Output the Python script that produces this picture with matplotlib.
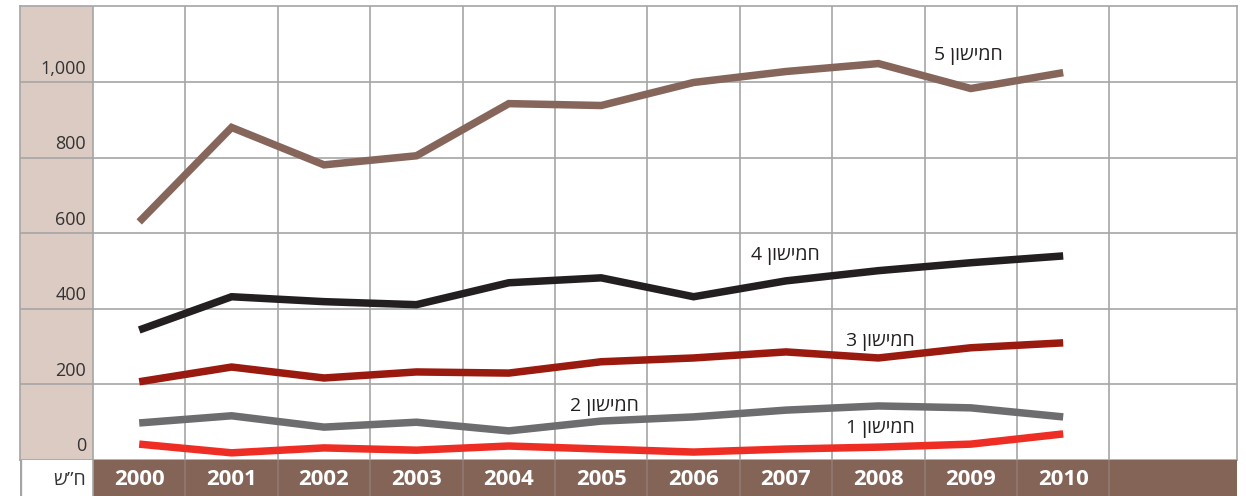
import matplotlib
matplotlib.use("Agg")
import matplotlib.pyplot as plt

years = [2000, 2001, 2002, 2003, 2004, 2005, 2006, 2007, 2008, 2009, 2010]
q5 = [630, 880, 781, 805, 943, 938, 999, 1028, 1049, 983, 1025]
q4 = [344, 432, 419, 411, 469, 482, 432, 474, 501, 522, 540]
q3 = [207, 246, 217, 233, 230, 260, 270, 286, 270, 297, 310]
q2 = [98, 117, 87, 100, 77, 103, 114, 132, 143, 138, 114]
q1 = [42, 19, 32, 26, 37, 29, 21, 29, 34, 42, 69]
series = [q1, q2, q3, q4, q5]
colors = ["#ee2e24", "#6d6d70", "#9b1a10", "#231f20", "#86655a"]
labels = ["חמישון 1", "חמישון 2", "חמישון 3", "חמישון 4", "חמישון 5"]
label_pos = [(8.02, 82), (5.04, 140), (8.02, 313), (6.99, 540), (8.97, 1070)]
yticks = [0, 200, 400, 600, 800, 1000]
ytick_labels = ["0", "200", "400", "600", "800", "1,000"]
unit_label = "ש”ח"

W, H = 1246, 496
fig = plt.figure(figsize=(W / 100, H / 100), dpi=100)

cell = 92.4
x0 = 93.0
def px2x(p):
    return (p - x0) / cell - 0.5

left_px, right_px = 20, 1237
top_px, mid_px, bot_px = 6, 460, 496
xl = (px2x(left_px), px2x(right_px))
ymax = 1000 + (82 - top_px) / 75.5 * 200

grid_c = "#a5a5a5"
fam = ["Open Sans", "DejaVu Sans"]

ax = fig.add_axes([left_px / W, 1 - mid_px / H, (right_px - left_px) / W, (mid_px - top_px) / H])
ax.set_xlim(*xl)
ax.set_ylim(0, ymax)
ax.axvspan(xl[0], -0.5, color="#dccbc3", zorder=0, lw=0)
for y in yticks[1:]:
    ax.axhline(y, color=grid_c, lw=1.2, zorder=1)
for i in range(len(years) + 1):
    ax.axvline(i - 0.5, color=grid_c, lw=1.2, zorder=1)
for s in ax.spines.values():
    s.set_color(grid_c)
    s.set_linewidth(1.2)
ax.set_xticks([])
ax.set_yticks([])

xs = list(range(len(years)))
for vals, c in zip(series, colors):
    ax.plot(xs, vals, color=c, lw=5.4, solid_capstyle="butt", solid_joinstyle="miter", zorder=3)

for (lx, ly), lab in zip(label_pos, labels):
    word, num = lab.split(" ")
    vis = num + " " + word[::-1]
    ax.text(lx, ly, vis, ha="center", va="center", fontsize=14,
            family=fam, color="#231f20", zorder=4)

for y, t in zip(yticks, ytick_labels):
    ax.text(px2x(86), y + 12, t, ha="right", va="bottom", fontsize=13,
            family=fam, color="#333333", zorder=4)

bx = fig.add_axes([left_px / W, 0, (right_px - left_px) / W, (bot_px - mid_px) / H])
bx.set_xlim(*xl)
bx.set_ylim(0, 1)
bx.axvspan(-0.5, xl[1], color="#856458", lw=0, zorder=0)
for i in range(len(years) + 1):
    bx.axvline(i - 0.5, color="#8f7a72" if i > 0 else grid_c, lw=1.2, zorder=1)
for s in bx.spines.values():
    s.set_visible(False)
bx.axvline(xl[0], color=grid_c, lw=2.4)
bx.set_xticks([])
bx.set_yticks([])
for i, yr in enumerate(years):
    bx.text(i, 0.45, str(yr), ha="center", va="center", color="white",
            fontsize=16, fontweight="bold", family=fam)
bx.text(px2x(86), 0.45, unit_label, ha="right", va="center", color="#333333",
        fontsize=14, family=fam)

fig.savefig("out.png", dpi=100, facecolor="white")
